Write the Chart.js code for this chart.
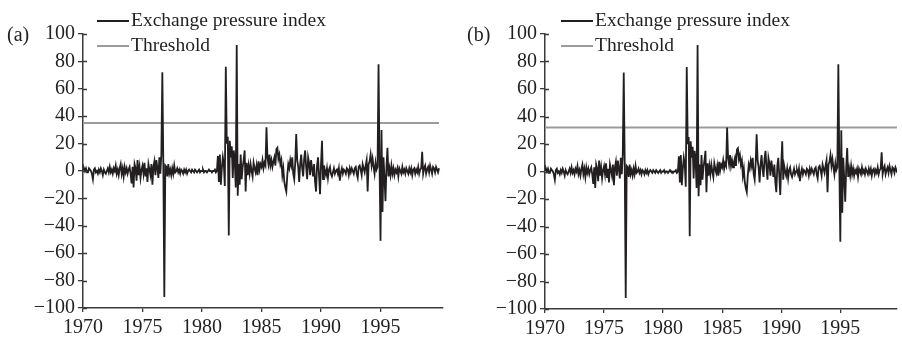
<!DOCTYPE html>
<html>
<head>
<meta charset="utf-8">
<script src="https://cdn.jsdelivr.net/npm/chart.js@4/dist/chart.umd.min.js"></script>
<style>
  html, body { margin:0; padding:0; background:#fff; }
  #wrap { position:relative; width:902px; height:339px; overflow:hidden; font-family:"Liberation Serif","Times New Roman",serif; color:#231f20; }
  .panel { position:absolute; top:0; width:451px; height:339px; }
  .panel canvas { position:absolute; left:0; top:0; }
  .lab { position:absolute; font-size:20px; line-height:20px; white-space:nowrap; }
  .leg { position:absolute; font-size:19.5px; line-height:20px; white-space:nowrap; }
  .sw { position:absolute; height:2px; width:32px; }
</style>
</head>
<body>
<div id="wrap">
  <div class="panel" id="pa" style="left:0">
    <canvas id="ca" width="451" height="339"></canvas>
  </div>
  <div class="panel" id="pb" style="left:451px">
    <canvas id="cb" width="451" height="339"></canvas>
  </div>
  <div class="lab" style="left:7px;top:24px">(a)</div>
  <div class="sw" style="left:97px;top:20px;background:#231f20"></div>
  <div class="leg" style="left:131px;top:10px">Exchange pressure index</div>
  <div class="sw" style="left:97px;top:45px;background:#9b9b9b"></div>
  <div class="leg" style="left:131px;top:35px">Threshold</div>

  <div class="lab" style="left:467px;top:24px">(b)</div>
  <div class="sw" style="left:561px;top:20px;background:#231f20"></div>
  <div class="leg" style="left:595px;top:10px">Exchange pressure index</div>
  <div class="sw" style="left:561px;top:45px;background:#9b9b9b"></div>
  <div class="leg" style="left:595px;top:35px">Threshold</div>
</div>
<script>
// ---- data (monthly, Jan 1970 - Dec 1999) ----
const startYear = 1970;
const xTickLabels = [1970, 1975, 1980, 1985, 1990, 1995];
const yTickValues = [-100, -80, -60, -40, -20, 0, 20, 40, 60, 80, 100];
const seriesNames = ["Exchange pressure index", "Threshold"];
const pressureIndex = [
  // 1970
  1, 2, 0, 2, -1, -1, 2, 1, 0, -2, -6, 1,
  // 1971
  2, -1, 0, -2, 1, -1, 2, 0, -3, 1, -1, -2,
  // 1972
  0, 2, -1, 3, -1, 1, -2, 2, 0, 4, -2, 1,
  // 1973
  -3, 2, 5, -2, 2, -4, 3, -1, 2, -2, 1, 3,
  // 1974
  -2, -9, 3, -12, 5, 2, -7, 8, -3, 3, -5, 1,
  // 1975
  4, -2, 6, -4, 2, -8, 5, 1, -3, 5, -10, 3,
  // 1976
  7, -3, 8, 2, -5, 10, -2, 12, 72, 5, -92, 4,
  // 1977
  3, -4, 5, -2, 1, -3, 2, -2, 4, -1, 0, 2,
  // 1978
  -1, 1, -2, 1, 0, -2, 1, -1, 1, -2, 0, 1,
  // 1979
  0, -1, 1, 0, -1, 1, 0, -1, 0, 1, -1, 0,
  // 1980
  0, 1, -1, 0, 0, -1, 0, 1, 0, 0, -1, 0,
  // 1981
  0, 1, -1, 0, 11, -8, 12, -10, 2, 10, 5, -11,
  // 1982
  76, 20, 25, -47, 22, 10, 18, -5, 15, 8, -12, 92,
  // 1983
  -18, 5, -10, 12, -6, 3, 8, 15, -15, 6, -3, 4,
  // 1984
  -2, 5, 0, -4, 6, 2, -1, 4, -3, 7, 1, 5,
  // 1985
  3, 8, 2, 6, 4, 32, 10, 5, 12, 4, 8, 3,
  // 1986
  7, 10, 4, 16, 17, 9, 12, 5, 8, -3, 2, -8,
  // 1987
  -12, -15, -3, 5, 2, 8, 4, 10, -2, -6, 6, 27,
  // 1988
  8, 3, -8, 5, 12, 2, -4, 9, 15, 3, -6, 10,
  // 1989
  6, -3, 8, 2, -4, 5, -8, -15, 4, 10, -3, -17,
  // 1990
  5, 22, -6, 4, 0, -3, 2, -5, 1, 3, -2, -4,
  // 1991
  -1, 2, -2, 0, 1, -2, 2, -7, -1, 2, -2, 1,
  // 1992
  0, -2, 2, 1, -3, 2, -1, 2, 0, -2, 2, 3,
  // 1993
  -2, -5, 3, 4, 1, -3, 5, 2, -1, 4, 8, -15,
  // 1994
  5, 7, 12, 4, 9, 3, -2, 6, 1, 3, 78, 5,
  // 1995
  -51, 30, -30, 10, -5, -22, 3, 17, -4, 2, -3, 4,
  // 1996
  -2, 2, -3, 1, -1, 2, -4, 2, 0, -2, 3, -1,
  // 1997
  1, -2, 2, 0, -2, 2, -1, 2, -3, 1, 2, -2,
  // 1998
  1, -1, 3, -2, 1, 2, 14, -2, 2, 4, -2, 1,
  // 1999
  3, -1, 4, 1, -2, 3, 2, -1, 3, 1, -1, 2
];
const thresholdA = 35;
const thresholdB = 32;

// ---- build ----
const INK = '#231f20';
const GREY = '#9b9b9b';
const FONT = { family: '"Liberation Serif","Times New Roman",serif', size: 20 };

function pts(vals) { return vals.map((v, i) => ({ x: startYear + i / 12, y: v })); }
const lastX = startYear + (pressureIndex.length - 1) / 12;

const innerTicks = {
  id: 'innerTicks',
  afterDraw(chart) {
    const ctx = chart.ctx, y = chart.scales.y, x = chart.scales.x;
    ctx.save();
    ctx.strokeStyle = '#3a3a3a';
    ctx.lineWidth = 1.3;
    ctx.beginPath();
    y.ticks.forEach(t => {
      const py = Math.round(y.getPixelForValue(t.value)) + 0.5;
      ctx.moveTo(x.left, py); ctx.lineTo(x.left + 4, py);
    });
    ctx.stroke();
    ctx.restore();
  }
};

function makeChart(id, thr, yWidth, xMax, padRight, xH) {
  return new Chart(document.getElementById(id), {
    type: 'line',
    data: {
      datasets: [
        { label: seriesNames[1], data: [{x: startYear, y: thr}, {x: lastX, y: thr}],
          borderColor: GREY, borderWidth: 2, pointRadius: 0, order: 2 },
        { label: seriesNames[0], data: pts(pressureIndex),
          borderColor: INK, borderWidth: 1.8, pointRadius: 0, tension: 0, order: 1 }
      ]
    },
    options: {
      responsive: false, animation: false,
      layout: { padding: { top: 34, right: padRight, left: 0, bottom: 0 } },
      plugins: { legend: { display: false }, tooltip: { enabled: false } },
      scales: {
        x: {
          type: 'linear', min: startYear, max: xMax,
          afterBuildTicks: s => { s.ticks = xTickLabels.map(v => ({ value: v })); },
          afterFit: s => { s.height = xH; },
          ticks: { color: INK, font: FONT, padding: 4, maxRotation: 0, autoSkip: false,
                   callback: v => String(v) },
          grid: { drawOnChartArea: false, tickLength: 4, color: '#3a3a3a', lineWidth: 1.3 },
          border: { color: '#3a3a3a', width: 1.5 }
        },
        y: {
          min: -100, max: 100,
          afterBuildTicks: s => { s.ticks = yTickValues.map(v => ({ value: v })); },
          afterFit: s => { s.width = yWidth; },
          ticks: { color: INK, font: FONT, padding: 3,
                   callback: v => (v < 0 ? '\u2212' + Math.abs(v) : String(v)) },
          grid: { drawOnChartArea: false, tickLength: 5, color: '#3a3a3a', lineWidth: 1.3 },
          border: { color: '#3a3a3a', width: 1.5 }
        }
      }
    },
    plugins: [innerTicks]
  });
}

makeChart('ca', thresholdA, 83, 2000.25, 8, 31);
makeChart('cb', thresholdB, 94, 1999.8, 5, 30);
</script>
</body>
</html>
